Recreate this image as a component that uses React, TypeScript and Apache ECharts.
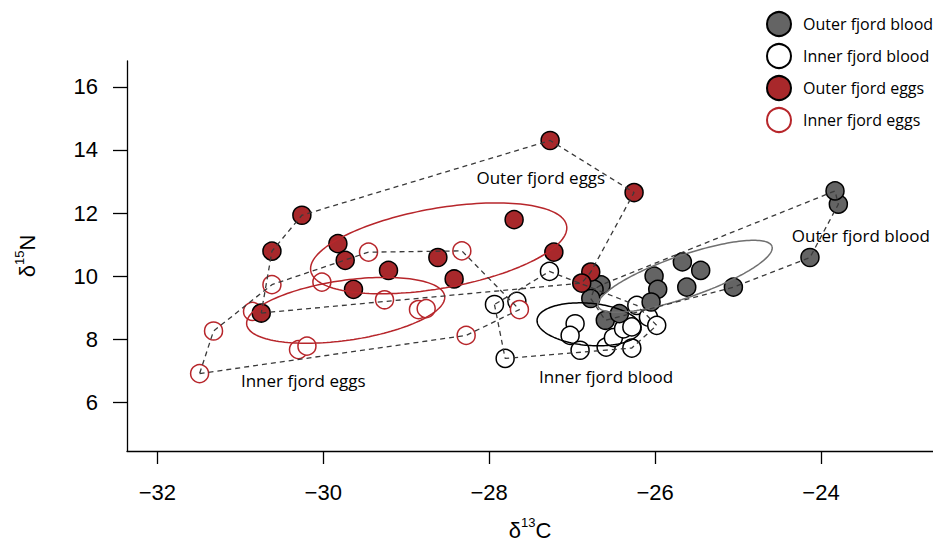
import React, { useEffect, useRef } from "react";
import * as echarts from "echarts";

// δ13C (x) and δ15N (y) values
const outerBloodC = [-26.651, -26.735, -26.775, -26.6, -26.43, -26.012, -25.968, -26.048, -25.671, -25.45, -25.618, -25.056, -24.133, -23.791, -23.831];
const outerBloodN = [9.72, 9.58, 9.29, 8.6, 8.81, 10.0, 9.58, 9.18, 10.45, 10.18, 9.65, 9.65, 10.59, 12.28, 12.7];

const innerBloodC = [-27.273, -27.936, -27.666, -27.807, -26.964, -27.024, -26.904, -26.59, -26.502, -26.38, -26.28, -26.28, -26.22, -26.08, -25.98];
const innerBloodN = [10.15, 9.1, 9.2, 7.39, 8.49, 8.12, 7.65, 7.75, 8.05, 8.33, 8.39, 7.72, 9.07, 8.7, 8.44];

const outerEggsC = [-30.257, -30.618, -29.823, -29.735, -29.213, -29.635, -30.747, -28.618, -28.422, -27.265, -26.253, -27.699, -27.22, -26.775, -26.884];
const outerEggsN = [11.93, 10.79, 11.03, 10.5, 10.18, 9.58, 8.83, 10.59, 9.91, 14.3, 12.65, 11.79, 10.76, 10.13, 9.78];

const innerEggsC = [-29.454, -28.329, -30.618, -30.016, -29.261, -28.852, -28.759, -30.852, -31.322, -30.298, -30.196, -28.277, -31.49, -27.635];
const innerEggsN = [10.76, 10.8, 9.73, 9.81, 9.25, 8.94, 8.97, 8.88, 8.26, 7.67, 7.78, 8.12, 6.91, 8.94];

// Standard ellipses: centre (x, y), semi-axis vector a, semi-axis vector b (data units)
const outerBloodEllipse = [-25.639, 9.994, 1.048, 0.951, 0.0825, -0.631];
const innerBloodEllipse = [-26.795, 8.472, 0.627, -0.143, -0.0217, -0.666];
const outerEggsEllipse = [-28.608, 10.881, 1.542, 0.716, 0.0839, -1.249];
const innerEggsEllipse = [-29.729, 8.916, 1.193, 0.453, 0.0513, -0.941];

// Group labels placed in data space
const labelNames = ["Outer fjord eggs", "Inner fjord eggs", "Inner fjord blood", "Outer fjord blood"];
const labelC = [-27.377, -30.241, -26.59, -23.52];
const labelN = [13.141, 6.697, 6.802, 11.293];

const xTicks = [-32, -30, -28, -26, -24];
const yTicks = [6, 8, 10, 12, 14, 16];

const seriesNames = ["Outer fjord blood", "Inner fjord blood", "Outer fjord eggs", "Inner fjord eggs"];

const RED = "#A8282B";
const RED_LINE = "#B7262B";
const GRAY = "#646464";

function zip(xs: number[], ys: number[]) {
  return xs.map((x, i) => [x, ys[i]]);
}

function hull(points: number[][]) {
  const p = points.slice().sort((a, b) => a[0] - b[0] || a[1] - b[1]);
  const cross = (o: number[], a: number[], b: number[]) =>
    (a[0] - o[0]) * (b[1] - o[1]) - (a[1] - o[1]) * (b[0] - o[0]);
  const lower: number[][] = [];
  for (const q of p) {
    while (lower.length >= 2 && cross(lower[lower.length - 2], lower[lower.length - 1], q) <= 0) lower.pop();
    lower.push(q);
  }
  const upper: number[][] = [];
  for (let i = p.length - 1; i >= 0; i--) {
    const q = p[i];
    while (upper.length >= 2 && cross(upper[upper.length - 2], upper[upper.length - 1], q) <= 0) upper.pop();
    upper.push(q);
  }
  upper.pop();
  lower.pop();
  const h = lower.concat(upper);
  h.push(h[0]);
  return h;
}

function ellipse(e: number[]) {
  const [cx, cy, ax, ay, bx, by] = e;
  const pts: number[][] = [];
  const n = 160;
  for (let i = 0; i <= n; i++) {
    const t = (i / n) * Math.PI * 2;
    pts.push([cx + ax * Math.cos(t) + bx * Math.sin(t), cy + ay * Math.cos(t) + by * Math.sin(t)]);
  }
  return pts;
}

const AXIS_FONT = "Liberation Sans, Arial, Helvetica, sans-serif";
const TEXT_FONT = "Open Sans, Lato, sans-serif";

export default function App() {
  const ref = useRef<HTMLDivElement>(null);
  useEffect(() => {
    if (!ref.current) return;
    const chart = echarts.init(ref.current, undefined, { renderer: "svg" });

    const groups = [
      { name: seriesNames[1], data: zip(innerBloodC, innerBloodN), fill: "#ffffff", border: "#000000", ell: innerBloodEllipse, ellColor: "#000000" },
      { name: seriesNames[0], data: zip(outerBloodC, outerBloodN), fill: GRAY, border: "#000000", ell: outerBloodEllipse, ellColor: "#707070" },
      { name: seriesNames[3], data: zip(innerEggsC, innerEggsN), fill: "#ffffff", border: RED_LINE, ell: innerEggsEllipse, ellColor: RED_LINE },
      { name: seriesNames[2], data: zip(outerEggsC, outerEggsN), fill: RED, border: "#000000", ell: outerEggsEllipse, ellColor: RED_LINE },
    ];

    const series: any[] = [];
    groups.forEach((g, i) => {
      series.push({
        type: "scatter",
        name: g.name,
        data: g.data,
        symbol: "circle",
        symbolSize: 18,
        z: 2 + i,
        itemStyle: { color: g.fill, borderColor: g.border, borderWidth: 1.5, opacity: 1 },
        emphasis: { disabled: true },
      });
    });
    groups.forEach((g) => {
      series.push({
        type: "line",
        name: g.name + " ellipse",
        data: ellipse(g.ell),
        symbol: "none",
        z: 7,
        silent: true,
        lineStyle: { color: g.ellColor, width: 1.5 },
      });
      series.push({
        type: "line",
        name: g.name + " hull",
        data: hull(g.data),
        symbol: "none",
        z: 8,
        silent: true,
        lineStyle: { color: "#3a3a3a", width: 1.3, type: [5, 4] },
      });
    });
    series.push({
      type: "scatter",
      name: "labels",
      symbolSize: 0,
      z: 9,
      silent: true,
      clip: false,
      itemStyle: { color: "#000" },
      data: labelNames.map((n, i) => ({ name: n, value: [labelC[i], labelN[i]] })),
      label: {
        show: true,
        position: "inside",
        formatter: "{b}",
        fontFamily: TEXT_FONT,
        fontSize: 17,
        color: "#000",
        textBorderWidth: 0,
        textBorderColor: "transparent",
        opacity: 1,
      },
    });

    const supRich = {
      d: { fontFamily: AXIS_FONT, fontSize: 22, color: "#000", lineHeight: 28 },
      s: { fontFamily: AXIS_FONT, fontSize: 13, color: "#000", lineHeight: 14, verticalAlign: "top" },
    };

    const fmt = (v: number) => (v < 0 ? "\u2212" + Math.abs(v) : String(v));

    chart.setOption({
      animation: false,
      backgroundColor: "#ffffff",
      grid: { left: 127, right: 0, top: 61, bottom: 92, containLabel: false, outerBoundsMode: "none" },
      legend: {
        data: seriesNames,
        orient: "vertical",
        left: 761,
        top: 6,
        padding: 5,
        itemWidth: 24,
        itemHeight: 24,
        itemGap: 6,
        icon: "circle",
        selectedMode: false,
        textStyle: { fontFamily: TEXT_FONT, fontSize: 16, color: "#000", padding: [0, 0, 0, 7] },
      },
      xAxis: {
        type: "value",
        min: -32.365,
        max: -22.65,
        splitLine: { show: false },
        axisLine: { show: true, onZero: false, lineStyle: { color: "#000", width: 1.3 } },
        axisTick: { show: true, inside: false, length: 13, customValues: xTicks, lineStyle: { color: "#000", width: 1.3 } },
        axisLabel: { customValues: xTicks, formatter: fmt, margin: 30, fontSize: 22, fontFamily: AXIS_FONT, color: "#000" },
        name: "{d|δ}{s|13}{d|C}",
        nameLocation: "middle",
        nameGap: 65,
        nameTextStyle: { rich: supRich },
      },
      yAxis: {
        type: "value",
        min: 4.456,
        max: 16.82,
        splitLine: { show: false },
        axisLine: { show: true, onZero: false, lineStyle: { color: "#000", width: 1.3 } },
        axisTick: { show: true, inside: false, length: 14, customValues: yTicks, lineStyle: { color: "#000", width: 1.3 } },
        axisLabel: { customValues: yTicks, formatter: fmt, margin: 29, fontSize: 22, fontFamily: AXIS_FONT, color: "#000" },
        name: "{d|δ}{s|15}{d|N}",
        nameLocation: "middle",
        nameRotate: 90,
        nameGap: 86,
        nameTextStyle: { rich: supRich },
      },
      series,
    });
    return () => chart.dispose();
  }, []);
  return (
    <div
      ref={ref}
      style={{ position: "absolute", left: 0, top: 0, width: 933, height: 543, background: "#fff" }}
    />
  );
}
